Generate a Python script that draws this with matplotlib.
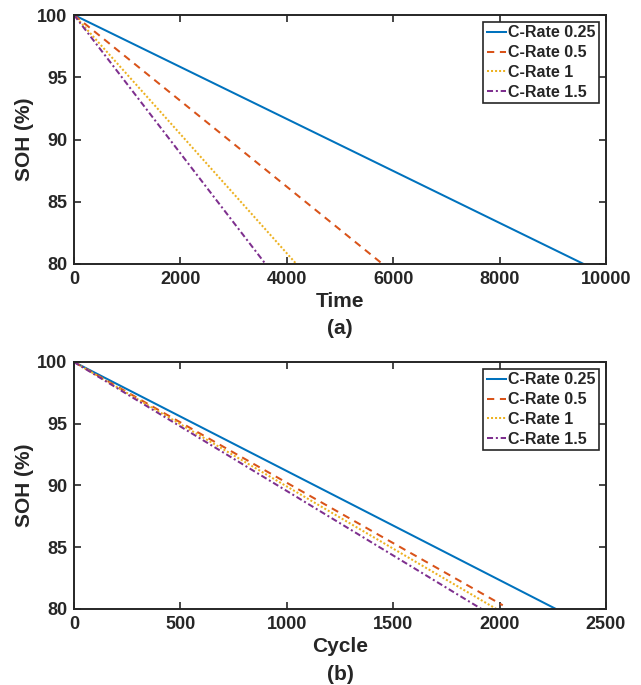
import matplotlib.pyplot as plt

plt.rcParams['font.family'] = ['Liberation Sans', 'DejaVu Sans']
plt.rcParams['font.weight'] = 'bold'

# SOH end points (start at 100 %, linear fade to 80 %)
rates = ['C-Rate 0.25', 'C-Rate 0.5', 'C-Rate 1', 'C-Rate 1.5']
soh = [100, 80]
time_end = [9580, 5800, 4180, 3600]
cycle_end = [2265, 2015, 1985, 1915]
soh_cycle_end = [80, 80.3, 80, 80]

colors = ['#0072BD', '#D95319', '#EDB120', '#7E2F8E']
styles = ['-', (0, (3.6, 2.8)), (0, (1, 1)), (0, (3, 1.4, 1, 1.4))]

fig = plt.figure(figsize=(6.41, 6.85), dpi=100)
W, H = 641, 685
ax1 = fig.add_axes([74 / W, 1 - 264 / H, 532 / W, 249 / H])
ax2 = fig.add_axes([74 / W, 1 - 609 / H, 532 / W, 247 / H])

for i, r in enumerate(rates):
    ax1.plot([0, time_end[i]], soh, color=colors[i], linestyle=styles[i], lw=1.45, label=r)
    ax2.plot([0, cycle_end[i]], [100, soh_cycle_end[i]], color=colors[i], linestyle=styles[i], lw=1.45, label=r)

def style(ax, xmax, xstep, xlabel, tag, tag_y):
    ax.set_xlim(0, xmax)
    ax.set_ylim(80, 100)
    ax.set_xticks(range(0, xmax + 1, xstep))
    ax.set_yticks(range(80, 101, 5))
    ax.tick_params(direction='in', top=True, right=True, length=5, width=1.2,
                   labelsize=13, colors='#262626', pad=5)
    for s in ax.spines.values():
        s.set_linewidth(1.4)
        s.set_color('#262626')
    ax.set_ylabel('SOH (%)', fontsize=15, fontweight='bold', color='#262626', labelpad=2)
    ax.set_xlabel(xlabel, fontsize=15, fontweight='bold', color='#262626', labelpad=3)
    leg = ax.legend(loc='upper right', fontsize=11.5, handlelength=1.2, handletextpad=0.15,
                    borderpad=0.2, labelspacing=0.3, borderaxespad=0.45, fancybox=False,
                    framealpha=1, edgecolor='#262626')
    leg.get_frame().set_linewidth(1.2)
    for t in leg.get_texts():
        t.set_fontweight('bold')
        t.set_color('#262626')
    fig.text(340 / W, 1 - tag_y / H, tag, ha='center', va='center', fontsize=15,
             fontweight='bold', color='#262626')

style(ax1, 10000, 2000, 'Time', '(a)', 328)
style(ax2, 2500, 500, 'Cycle', '(b)', 674)

fig.savefig('out.png', dpi=100)
